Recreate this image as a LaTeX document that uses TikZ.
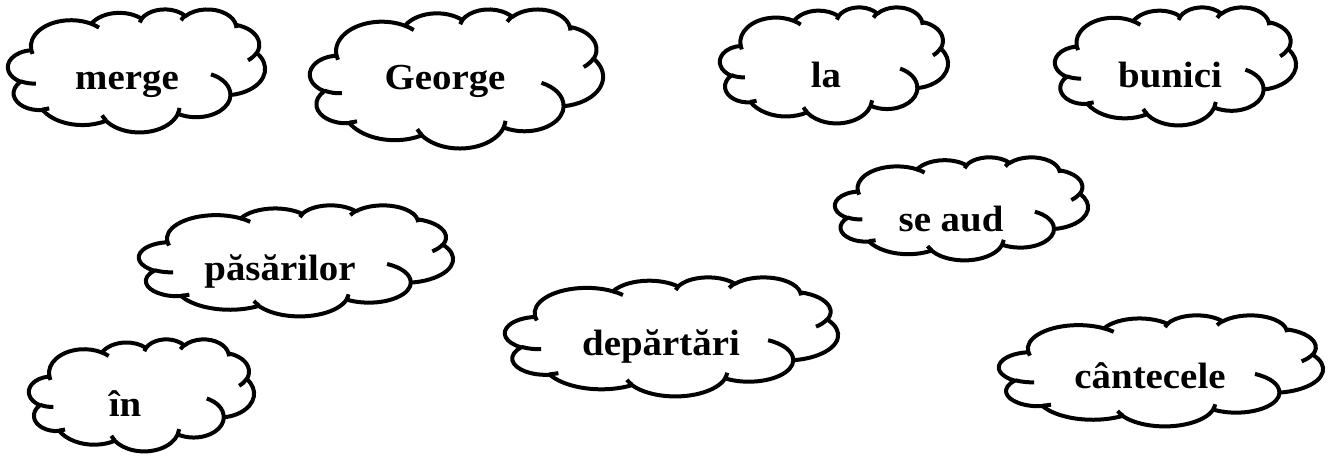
\documentclass[tikz,border=0pt]{standalone}
\usepackage{fontspec}
\setmainfont{Liberation Serif}[FakeStretch=1.06]
\pgfmathdeclarefunction{vp}{3}{%
  \pgfmathparse{#1+atan2((#2-#3)*sin(#1)*cos(#1), #3*cos(#1)*cos(#1)+#2*sin(#1)*sin(#1))}%
}
\newcommand\ca[4]{arc[x radius=#1,y radius=#2,start angle={vp(#3,#1,#2)},end angle={vp(#3+#4,#1,#2)}]}
\newcommand\wordcloud[4]{%
  \begin{scope}[shift={(#1,#2)},xscale=#3/43.2,yscale=#4/43.2]
    \draw[cloudline] (3.9,14.37)
      \ca{6.753}{9.19}{-190.4875}{123.7805}
      \ca{5.333}{7.267}{-144.1024}{89.9452}
      \ca{4.365}{5.945}{-145.8079}{99.723}
      \ca{4.857}{6.595}{-130.9861}{117.2417}
      \ca{5.333}{7.273}{-78.7089}{109.0269}
      \ca{6.775}{9.22}{-46.2673}{130.269}
      \ca{5.785}{7.867}{0.625}{114.0333}
      \ca{6.752}{9.215}{22.4516}{115.1726}
      \ca{7.72}{10.543}{66.2426}{75.711}
      \ca{4.36}{5.918}{-274.9421}{146.7356}
      \ca{4.345}{5.945}{-246.8285}{152.5189}
      -- cycle;
    \draw[cloudline]
      (4.693,26.177) \ca{4.345}{5.945}{86.742}{26.4295}
      (6.928,34.899) \ca{4.36}{5.918}{73.6105}{11.4475}
      (16.478,39.09) \ca{6.752}{9.215}{137.6242}{14.0811}
      (28.827,34.751) \ca{6.752}{9.215}{6.4533}{15.9984}
      (34.129,22.954) \ca{5.785}{7.867}{-70.2924}{70.9174}
      (41.798,15.354) \ca{5.333}{7.273}{30.318}{27.7515}
      (38.324,5.426) \ca{4.857}{6.595}{-13.7443}{14.8589}
      (29.078,3.952) \ca{4.857}{6.595}{-149.1815}{18.1954}
      (22.141,4.72) \ca{4.365}{5.945}{-163.4943}{17.6864}
      (14,5.192) \ca{6.753}{9.19}{-66.707}{12.3194}
      (4.127,15.789) \ca{6.753}{9.19}{157.6544}{11.8582};
  \end{scope}}
\tikzset{
  cloudline/.style={line width=3pt,line join=round,line cap=butt,black},
  word/.style={inner sep=0pt,anchor=base,font=\fontsize{27.5}{33}\selectfont\bfseries}
}
\begin{document}
\begin{tikzpicture}[x=0.75pt,y=-0.75pt]
\useasboundingbox (0,0) rectangle (1328,457);
\wordcloud{8}{9}{257}{123}
\wordcloud{310}{9}{293}{139}
\wordcloud{720}{7}{228}{116}
\wordcloud{1055}{7}{241}{118}
\wordcloud{835}{157}{253}{103}
\wordcloud{139}{205}{314}{111}
\wordcloud{29}{339}{225}{112}
\wordcloud{505}{277}{333}{119}
\wordcloud{999}{315}{324}{111}
\node[word] (merge) at (127,89.5) {merge};
\node[word] (george) at (445,89.5) {George};
\node[word] (la) at (826,87.5) {la};
\node[word] (bunici) at (1170,87.5) {bunici};
\node[word] (seaud) at (951,231.5) {se aud};
\node[word] (pasarilor) at (280,280) {păsărilor};
\node[word] (in) at (125,416.5) {în};
\node[word] (departari) at (661,355) {depărtări};
\node[word] (cantecele) at (1150,388) {cântecele};
\end{tikzpicture}
\end{document}
